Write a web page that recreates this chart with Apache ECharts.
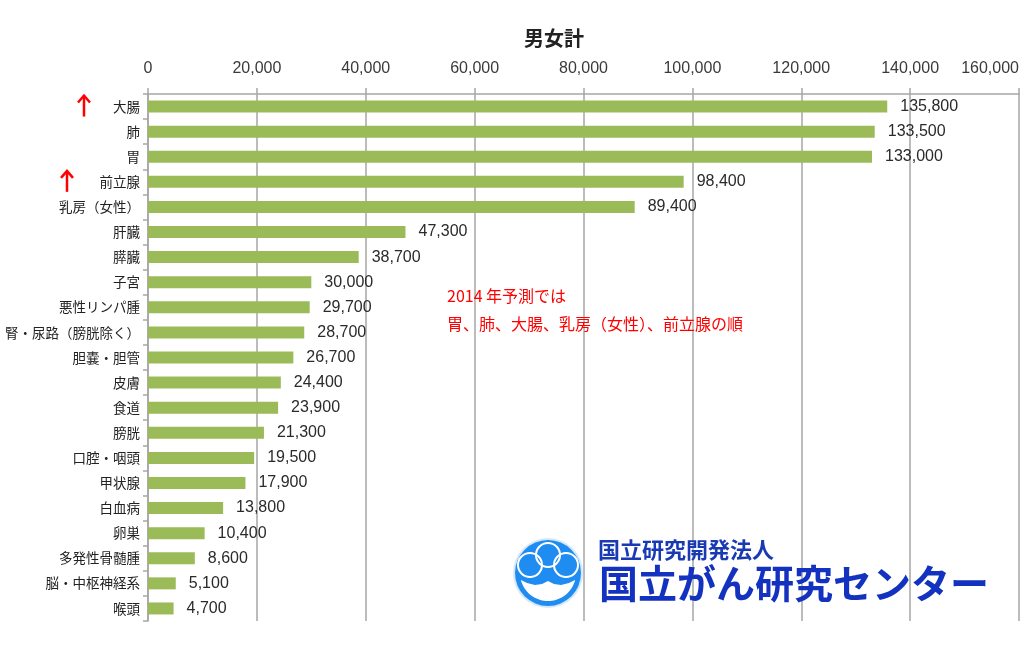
<!DOCTYPE html>
<html><head><meta charset="utf-8">
<script src="https://cdn.jsdelivr.net/npm/echarts@6/dist/echarts.min.js"></script>
<style>html,body{margin:0;padding:0;background:#fff}#c{width:1024px;height:648px}</style>
</head><body><div id="c"></div>
<script>
const categories = ['大腸','肺','胃','前立腺','乳房（女性）','肝臓','膵臓','子宮','悪性リンパ腫','腎・尿路（膀胱除く）','胆嚢・胆管','皮膚','食道','膀胱','口腔・咽頭','甲状腺','白血病','卵巣','多発性骨髄腫','脳・中枢神経系','喉頭'];
const values = [135800,133500,133000,98400,89400,47300,38700,30000,29700,28700,26700,24400,23900,21300,19500,17900,13800,10400,8600,5100,4700];
const arrowCategories = ['大腸','前立腺'];
const titleText = '男女計';
const noteLines = ['2014 年予測では','胃、肺、大腸、乳房（女性）、前立腺の順'];
const logoSmall = '国立研究開発法人';
const logoLarge = '国立がん研究センター';

const chart = echarts.init(document.getElementById('c'));
const font = '"Noto Sans CJK JP", "Noto Sans", sans-serif';
const numFont = '"Liberation Sans", Arial, sans-serif';
chart.setOption({
  animation: false,
  backgroundColor: '#fff',
  title: { text: titleText, left: 549, top: 23, textAlign: 'center',
    textStyle: { fontSize: 20, fontWeight: 'bold', color: '#222', fontFamily: font } },
  grid: { left: 148, right: 5, top: 94, bottom: 27, containLabel: false, outerBoundsMode: 'none' },
  xAxis: {
    type: 'value', position: 'top', min: 0, max: 160000, interval: 20000,
    axisLine: { show: true, lineStyle: { color: '#a6a6a6', width: 1.5 } },
    axisTick: { show: true, length: 6, lineStyle: { color: '#a6a6a6', width: 1.5 } },
    splitLine: { show: true, lineStyle: { color: '#a6a6a6', width: 1.5 } },
    axisLabel: { margin: 17, fontSize: 16, color: '#3a3a3a', fontFamily: numFont,
      alignMaxLabel: 'right',
      formatter: v => v.toLocaleString('en-US') }
  },
  yAxis: {
    type: 'category', inverse: true, data: categories,
    axisLine: { show: true, lineStyle: { color: '#a6a6a6', width: 1.5 } },
    axisTick: { show: true, length: 5, lineStyle: { color: '#a6a6a6', width: 1.5 } },
    axisLabel: { margin: 8, fontSize: 13.5, color: '#222', fontFamily: font }
  },
  series: [{
    type: 'bar', data: values, barWidth: 12,
    itemStyle: { color: '#9bbb59' },
    label: { show: true, position: 'right', distance: 13, fontSize: 16, color: '#2a2a2a',
      fontFamily: numFont,
      formatter: p => p.value.toLocaleString('en-US') }
  }]
});

// annotations
const graphics = [];
const arrowX = { '大腸': 84, '前立腺': 67 };
arrowCategories.forEach(cat => {
  const y = chart.convertToPixel({ yAxisIndex: 0 }, cat);
  const x = arrowX[cat];
  graphics.push({ type: 'line', shape: { x1: x, y1: y - 11, x2: x, y2: y + 10 }, style: { stroke: '#ff0000', lineWidth: 2.5 } });
  graphics.push({ type: 'polyline', shape: { points: [[x - 6, y - 4], [x, y - 11], [x + 6, y - 4]] }, style: { stroke: '#ff0000', lineWidth: 2.5, fill: 'transparent' } });
});
noteLines.forEach((t, i) => {
  graphics.push({ type: 'text', x: 447, y: 288 + i * 28, style: { text: t, fill: '#ff0000', font: '16px ' + font } });
});
// logo
const cx = 548, cy = 573, R = 33;
graphics.push({ type: 'circle', shape: { cx, cy, r: R + 2 }, style: { fill: 'rgba(30,120,220,0.18)' } });
graphics.push({ type: 'circle', shape: { cx, cy, r: R }, style: { fill: '#1e8cf0' } });
[[530, 565, 12], [548, 555, 12], [566, 565, 12]].forEach(c => {
  graphics.push({ type: 'circle', shape: { cx: c[0], cy: c[1], r: c[2] }, style: { fill: 'transparent', stroke: '#fff', lineWidth: 2 } });
});
const smile = [[-27,7],[-21,10],[-13,12],[-6,11],[0,8],[6,11],[13,12],[21,10],[27,7]].map(p => [cx + p[0], cy + p[1]]);
for (let a = 14; a <= 166; a += 4) {
  const r = a * Math.PI / 180;
  smile.push([cx + 28 * Math.cos(r), cy + 28 * Math.sin(r)]);
}
graphics.push({ type: 'polygon', shape: { points: smile }, style: { fill: '#fff' } });
graphics.push({ type: 'text', x: 598, y: 539, style: { text: logoSmall, fill: '#1a3ab4', font: 'bold 22px ' + font,
  shadowBlur: 3, shadowColor: 'rgba(0,0,80,0.3)', shadowOffsetY: 1 } });
graphics.push({ type: 'text', x: 599, y: 564, style: { text: logoLarge, fill: '#1432c0', font: 'bold 39px ' + font,
  shadowBlur: 4, shadowColor: 'rgba(0,0,80,0.35)', shadowOffsetY: 2 } });
chart.setOption({ graphic: graphics });
</script></body></html>
